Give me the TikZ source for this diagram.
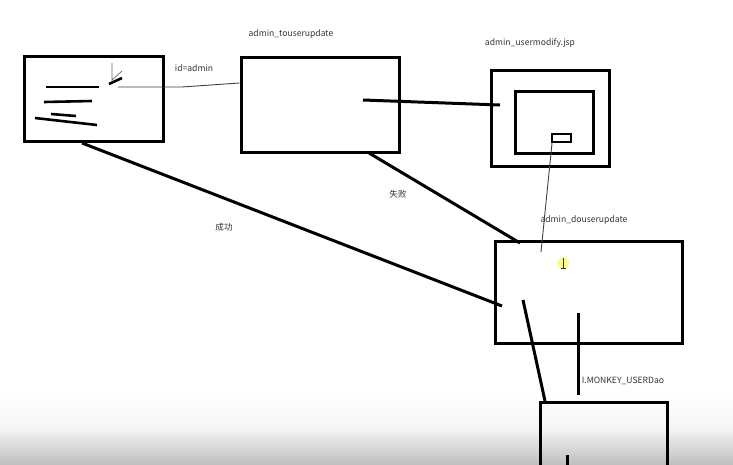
\documentclass[tikz,border=0pt]{standalone}
\usepackage{fontspec}
\setmainfont{Noto Sans CJK SC}
\begin{document}
\begin{tikzpicture}[x=1pt,y=-1pt,
  frame/.style={draw=black,line width=3pt,inner sep=0pt,rectangle},
  thick link/.style={draw=black,line width=3pt},
  thin link/.style={draw=black!75,line width=0.9pt},
  scribble/.style={draw=black,line width=2.6pt},
  tag/.style={inner sep=0pt,font=\fontsize{8.6}{10}\selectfont,text=black!80}]
\useasboundingbox (0,0) rectangle (733,464);
\clip (0,0) rectangle (733,464);
% faded screen edge along the bottom
\shade[top color=white,bottom color=black!25,middle color=black!4] (0,392) rectangle (733,464);

% boxes
\node[frame,minimum width=139pt,minimum height=85pt] (list) at (93.5,98.5) {};
\node[frame,minimum width=158pt,minimum height=95pt] (toupd) at (320,104.5) {};
\node[frame,minimum width=118pt,minimum height=96pt] (jsp) at (550,118) {};
\node[frame,minimum width=78pt,minimum height=62pt] (form) at (554,122) {};
\node[frame,line width=2.4pt,minimum width=19pt,minimum height=8pt] (btn) at (561.5,138) {};
\node[frame,minimum width=187pt,minimum height=102pt] (doupd) at (588.5,292) {};
\node[frame,minimum width=127pt,minimum height=80pt] (dao) at (603.5,442) {};

% scribbled rows inside the list box
\coordinate (r1a) at (46,87);  \coordinate (r1b) at (99,87);
\coordinate (r2a) at (44,102); \coordinate (r2b) at (92,101);
\coordinate (r3a) at (51,114); \coordinate (r3b) at (76,116);
\coordinate (r4a) at (35,118); \coordinate (r4b) at (97,125);
\coordinate (lnka) at (109,84); \coordinate (lnkb) at (122,78);
\draw[scribble] (r1a) -- (r1b);
\draw[scribble] (r2a) -- (r2b);
\draw[scribble] (r3a) -- (r3b);
\draw[scribble] (r4a) -- (r4b);
\draw[scribble] (lnka) -- (lnkb);
% pointer marks above the link
\coordinate (ptop) at (112,63); \coordinate (ptip) at (112,80); \coordinate (pside) at (122,71);
\draw[draw=black!60,line width=0.7pt] (ptop) -- (ptip) -- (pside);

% connectors
\coordinate (idstart) at (118,87);
\coordinate (idbend) at (182,87);
\draw[thin link] (idstart) -- (idbend) -- (toupd.west |- 0,83);

\coordinate (okstart) at (82,143);
\coordinate (okend) at (502,306);
\draw[thick link] (okstart) -- (okend);

\coordinate (fwdstart) at (363,100);
\coordinate (fwdend) at (500,105);
\draw[thick link] (fwdstart) -- (fwdend);

\coordinate (failstart) at (369,153);
\coordinate (failend) at (520,243);
\draw[thick link] (failstart) -- (failend);

\coordinate (subend) at (541,252);
\draw[thin link] (btn.south -| 552,0) -- (subend);

\coordinate (down1a) at (523,300);
\coordinate (down1b) at (545,401);
\draw[thick link] (down1a) -- (down1b);

\coordinate (down2a) at (578,313);
\coordinate (down2b) at (578,395);
\draw[thick link] (down2a) -- (down2b);

\coordinate (inner1a) at (567,455);
\coordinate (inner1b) at (567,470);
\draw[thick link] (inner1a) -- (inner1b);

% text cursor
\fill[yellow!60,opacity=0.7] (563,263) circle (6pt);
\coordinate (ibt) at (563,258); \coordinate (ibb) at (563,268);
\draw[black!80,line width=0.6pt] (ibt) -- (ibb);
\draw[black!80,line width=0.6pt] (560.5,268) -- (565.5,268);

% labels
\node[tag] (lid) at (194,68) {id=admin};
\node[tag] (ltou) at (291,34) {admin\_touserupdate};
\node[tag] (ljsp) at (530,43) {admin\_usermodify.jsp};
\node[tag] (lfail) at (398,194) {失败};
\node[tag] (lok) at (224,227) {成功};
\node[tag] (ldo) at (584,220) {admin\_douserupdate};
\node[tag] (ldao) at (623,381) {I.MONKEY\_USERDao};
\end{tikzpicture}
\end{document}
